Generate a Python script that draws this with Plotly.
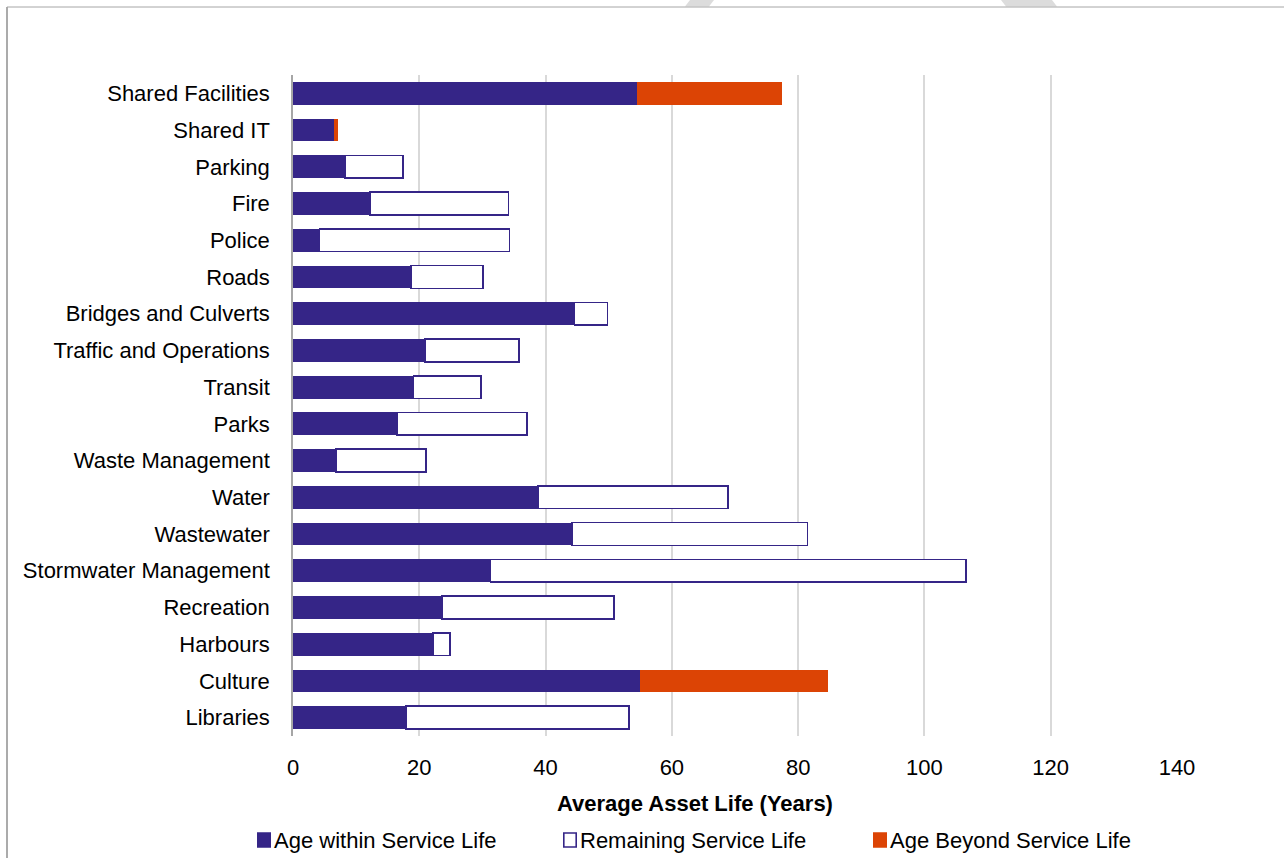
import plotly.graph_objects as go

# Asset categories, listed from top to bottom
categories = [
    "Shared Facilities", "Shared IT", "Parking", "Fire", "Police", "Roads",
    "Bridges and Culverts", "Traffic and Operations", "Transit", "Parks",
    "Waste Management", "Water", "Wastewater", "Stormwater Management",
    "Recreation", "Harbours", "Culture", "Libraries",
]

# Average age still within the expected service life (years)
age_within = [54.5, 6.5, 8.2, 12.2, 4.2, 18.7, 44.6, 20.9, 19.1, 16.5,
              6.8, 38.8, 44.2, 31.3, 23.6, 22.2, 55.0, 17.9]

# Remaining service life (years); None where the asset is past its life
remaining_life = [None, None, 9.2, 21.9, 30.1, 11.4, 5.2, 14.9, 10.7, 20.6,
                  14.3, 30.1, 37.3, 75.3, 27.2, 2.7, None, 35.3]

# Age beyond the expected service life (years)
age_beyond = [23.0, 0.6, None, None, None, None, None, None, None, None,
              None, None, None, None, None, None, 29.7, None]

x_ticks = [0, 20, 40, 60, 80, 100, 120, 140]

PURPLE = "#352587"
ORANGE = "#DC4405"
FONT = "Liberation Sans, Arial, sans-serif"

W, H = 1284, 858
L, R, T, B = 293, 1177, 75, 736  # plot area in pixels


def px(x):
    return (x - L) / (R - L)


def py(y):
    return (B - y) / (B - T)


fig = go.Figure()
fig.add_trace(go.Bar(
    y=categories, x=age_within, orientation="h", name="Age within Service Life",
    marker=dict(color=PURPLE, line=dict(width=0)), showlegend=False,
))
fig.add_trace(go.Bar(
    y=categories, x=remaining_life, orientation="h", name="Remaining Service Life",
    marker=dict(color="white", line=dict(color=PURPLE, width=1.6)), showlegend=False,
))
fig.add_trace(go.Bar(
    y=categories, x=age_beyond, orientation="h", name="Age Beyond Service Life",
    marker=dict(color=ORANGE, line=dict(width=0)), showlegend=False,
))

shapes = []
# outer chart frame (left and top edges)
shapes.append(dict(type="line", xref="paper", yref="paper",
                   x0=px(7), x1=px(7), y0=py(7), y1=py(900),
                   line=dict(color="#ABABAB", width=2)))
shapes.append(dict(type="line", xref="paper", yref="paper",
                   x0=px(7), x1=px(1300), y0=py(7), y1=py(7),
                   line=dict(color="#A6A6A6", width=1)))


# faint background strokes above the frame
def poly(points):
    d = "M " + " L ".join(f"{px(a):.5f},{py(b):.5f}" for a, b in points) + " Z"
    return dict(type="path", xref="paper", yref="paper", path=d,
                fillcolor="#DCDCDC", line=dict(width=0), layer="below")


shapes.append(poly([(685, 6.5), (690, 0), (714, 0), (709, 6.5)]))
shapes.append(poly([(1001, 0), (1052, 0), (1057, 6.5), (1006, 6.5)]))

# legend
legend_items = [
    (257, "Age within Service Life", PURPLE, PURPLE),
    (563, "Remaining Service Life", "white", PURPLE),
    (873, "Age Beyond Service Life", ORANGE, ORANGE),
]
annotations = []
for x0, label, fill, edge in legend_items:
    shapes.append(dict(type="rect", xref="paper", yref="paper",
                       x0=px(x0 + 0.8), x1=px(x0 + 13.2), y0=py(833), y1=py(847),
                       fillcolor=fill, line=dict(color=edge, width=1.6)))
    annotations.append(dict(xref="paper", yref="paper", x=px(x0 + 15), y=py(840.5),
                            xanchor="left", yanchor="middle", showarrow=False,
                            text=label, font=dict(family=FONT, size=22, color="black")))

# axis title
annotations.append(dict(xref="paper", yref="paper", x=px(695), y=py(803),
                        xanchor="center", yanchor="middle", showarrow=False,
                        text="<b>Average Asset Life (Years)</b>",
                        font=dict(family=FONT, size=22, color="black")))

fig.update_layout(
    width=W, height=H,
    margin=dict(l=L, r=W - R, t=T, b=H - B, pad=0),
    paper_bgcolor="white", plot_bgcolor="white",
    barmode="stack", bargap=0.38,
    font=dict(family=FONT, size=22, color="black"),
    shapes=shapes, annotations=annotations,
    showlegend=False,
)
fig.update_xaxes(
    range=[0, 140], tickvals=x_ticks, ticktext=[str(v) for v in x_ticks],
    showgrid=True, gridcolor="#D9D9D9", gridwidth=1.5,
    zeroline=False, showline=False, ticks="",
    ticklabelstandoff=16, tickfont=dict(family=FONT, size=22, color="black"),
)
fig.update_yaxes(
    categoryorder="array", categoryarray=categories, autorange="reversed",
    showgrid=False, zeroline=False, showline=True, linecolor="#A6A6A6", linewidth=1.5,
    ticks="", ticklabelstandoff=17, tickfont=dict(family=FONT, size=22, color="black"),
)

fig.write_html("out.html")
